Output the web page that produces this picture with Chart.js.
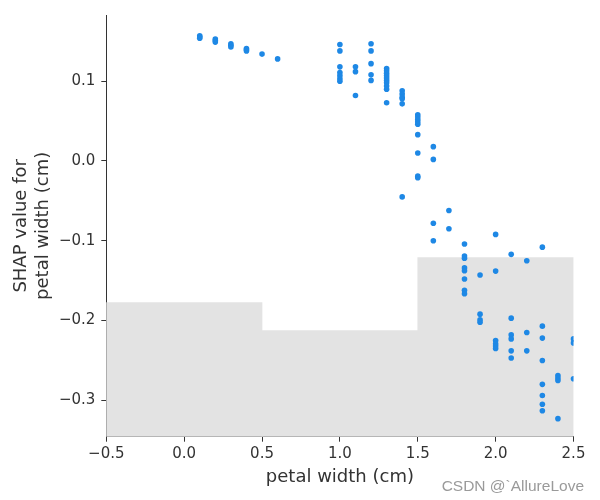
<!DOCTYPE html>
<html>
<head>
<meta charset="utf-8">
<script src="https://cdn.jsdelivr.net/npm/chart.js@4.4.1/dist/chart.umd.min.js"></script>
<style>
  body { margin: 0; background: #fff; }
  #wrap { width: 600px; height: 500px; }
</style>
</head>
<body>
<div id="wrap"><canvas id="shapChart" width="600" height="500"></canvas></div>
<script>
// petal width of each sample and its SHAP value
const petalWidth = [
  0.1, 0.1, 0.1,
  0.2, 0.2, 0.2,
  0.3, 0.3, 0.3,
  0.4, 0.4, 0.4,
  0.5, 0.6,
  1.0, 1.0, 1.0, 1.0, 1.0, 1.0, 1.0,
  1.1, 1.1, 1.1,
  1.2, 1.2, 1.2, 1.2, 1.2,
  1.3, 1.3, 1.3, 1.3, 1.3, 1.3, 1.3, 1.3, 1.3, 1.3,
  1.4, 1.4, 1.4, 1.4, 1.4, 1.4,
  1.5, 1.5, 1.5, 1.5, 1.5, 1.5, 1.5, 1.5, 1.5,
  1.6, 1.6, 1.6, 1.6,
  1.7, 1.7,
  1.8, 1.8, 1.8, 1.8, 1.8, 1.8, 1.8, 1.8,
  1.9, 1.9, 1.9, 1.9,
  2.0, 2.0, 2.0, 2.0, 2.0, 2.0,
  2.1, 2.1, 2.1, 2.1, 2.1, 2.1,
  2.2, 2.2, 2.2,
  2.3, 2.3, 2.3, 2.3, 2.3, 2.3, 2.3, 2.3,
  2.4, 2.4, 2.4, 2.4,
  2.5, 2.5, 2.5
];
const shapValue = [
  0.157, 0.1555, 0.154,
  0.153, 0.151, 0.149,
  0.147, 0.145, 0.143,
  0.141, 0.1395, 0.138,
  0.134, 0.128,
  0.146, 0.138, 0.118, 0.111, 0.107, 0.103, 0.100,
  0.118, 0.112, 0.082,
  0.147, 0.138, 0.122, 0.108, 0.101,
  0.116, 0.113, 0.110, 0.107, 0.104, 0.101, 0.098, 0.094, 0.090, 0.073,
  0.088, 0.084, 0.080, 0.078, 0.0716, -0.045,
  0.058, 0.055, 0.052, 0.049, 0.046, 0.033, 0.010, -0.019, -0.021,
  0.018, 0.002, -0.078, -0.100,
  -0.062, -0.085,
  -0.104, -0.119, -0.122, -0.134, -0.1375, -0.148, -0.162, -0.1665,
  -0.143, -0.192, -0.199, -0.202,
  -0.092, -0.138, -0.225, -0.229, -0.232, -0.235,
  -0.117, -0.197, -0.218, -0.223, -0.238, -0.247,
  -0.125, -0.215, -0.238,
  -0.108, -0.207, -0.222, -0.250, -0.280, -0.294, -0.305, -0.313,
  -0.269, -0.272, -0.275, -0.323,
  -0.223, -0.228, -0.273
];

// background histogram (bins of petal width, top edge in SHAP units)
const histBins = ['-0.5 – 0.5', '0.5 – 1.5', '1.5 – 2.5'];
const histTop = [-0.1775, -0.2125, -0.121];

const xTicks = [-0.5, 0.0, 0.5, 1.0, 1.5, 2.0, 2.5];
const yTicks = [-0.3, -0.2, -0.1, 0.0, 0.1];
const xRange = [-0.5, 2.5];
const yRange = [-0.3456, 0.183];

const INK = '#333333';
const BLUE = '#1E88E5';

const fmt = v => {
  const s = Math.abs(v).toFixed(1);
  return v < -1e-9 ? '\u2212' + s : s;
};

const points = petalWidth.map((x, i) => ({ x: x, y: shapValue[i] }));

const watermark = {
  id: 'watermark',
  afterDraw(chart) {
    const ctx = chart.ctx;
    ctx.save();
    ctx.font = '15.5px "Liberation Sans", Arial, sans-serif';
    ctx.fillStyle = '#9a9a9a';
    ctx.textAlign = 'right';
    ctx.textBaseline = 'alphabetic';
    ctx.fillText('CSDN @`AllureLove', 584, 491);
    ctx.restore();
  }
};

new Chart(document.getElementById('shapChart'), {
  data: {
    datasets: [
      {
        type: 'scatter',
        data: points,
        xAxisID: 'x',
        yAxisID: 'y',
        backgroundColor: BLUE,
        borderWidth: 0,
        pointRadius: 2.8,
        order: 1
      },
      {
        type: 'bar',
        data: histTop,
        base: yRange[0],
        xAxisID: 'xHist',
        yAxisID: 'y',
        backgroundColor: '#e3e3e3',
        borderWidth: 0,
        grouped: false,
        barPercentage: 1.0,
        categoryPercentage: 1.0,
        order: 2
      }
    ]
  },
  options: {
    responsive: false,
    animation: false,
    layout: { padding: { left: 0, right: 26.5, top: 15, bottom: 0 } },
    plugins: {
      legend: { display: false },
      tooltip: { enabled: false }
    },
    scales: {
      x: {
        type: 'linear',
        position: 'bottom',
        min: xRange[0],
        max: xRange[1],
        afterBuildTicks: s => { s.ticks = xTicks.map(v => ({ value: v })); },
        afterFit: s => { s.height = 63.3; },
        grid: { drawOnChartArea: false, drawTicks: true, tickLength: 5, color: INK, lineWidth: 1 },
        border: { display: true, color: INK, width: 1 },
        ticks: {
          color: INK,
          padding: 3,
          maxRotation: 0,
          font: { family: '"DejaVu Sans"', size: 15 },
          callback: v => fmt(v)
        },
        title: {
          display: true,
          text: 'petal width (cm)',
          color: INK,
          font: { family: '"DejaVu Sans"', size: 18, lineHeight: 1.2 },
          padding: { top: 0, bottom: 12 }
        }
      },
      xHist: {
        type: 'category',
        labels: histBins,
        offset: true,
        display: false
      },
      y: {
        type: 'linear',
        position: 'left',
        min: yRange[0],
        max: yRange[1],
        afterBuildTicks: s => { s.ticks = yTicks.map(v => ({ value: v })); },
        afterFit: s => { s.width = 106.3; },
        grid: { drawOnChartArea: false, drawTicks: true, tickLength: 5, color: INK, lineWidth: 1 },
        border: { display: true, color: INK, width: 1 },
        ticks: {
          color: INK,
          padding: 6,
          font: { family: '"DejaVu Sans"', size: 15 },
          callback: v => fmt(v)
        },
        title: {
          display: true,
          text: ['SHAP value for', 'petal width (cm)'],
          color: INK,
          font: { family: '"DejaVu Sans"', size: 18, lineHeight: 1.2 },
          padding: { top: 11, bottom: 0 }
        }
      }
    }
  },
  plugins: [watermark]
});
</script>
</body>
</html>
